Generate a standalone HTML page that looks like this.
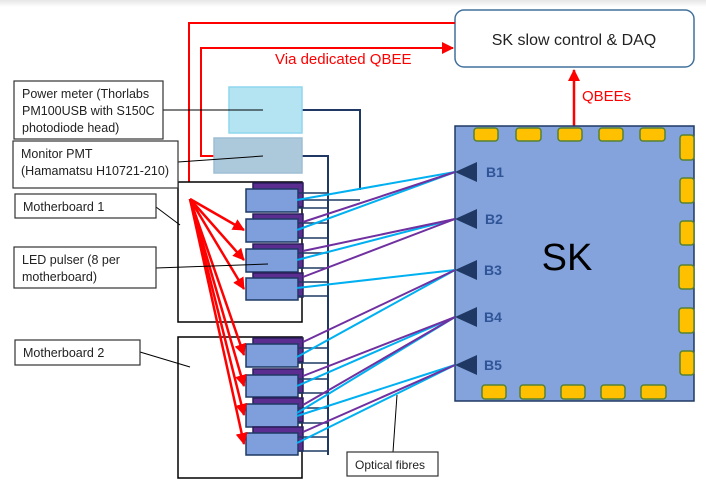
<!DOCTYPE html>
<html><head><meta charset="utf-8"><style>
body{margin:0;background:#fff;}
svg{display:block;font-family:"Liberation Sans",sans-serif;}
</style></head><body>
<svg width="706" height="483" viewBox="0 0 706 483" xmlns="http://www.w3.org/2000/svg">
<defs>
<linearGradient id="tg" x1="0" y1="0" x2="0" y2="1"><stop offset="0" stop-color="#e6e6e6"/><stop offset="1" stop-color="#fff"/></linearGradient>
<marker id="ra" markerWidth="8" markerHeight="8" refX="7" refY="4" orient="auto" markerUnits="userSpaceOnUse"><path d="M0,0 L8,4 L0,8z" fill="#f00"/></marker>
<marker id="rb" markerWidth="12" markerHeight="12" refX="11" refY="6" orient="auto" markerUnits="userSpaceOnUse"><path d="M0,0 L12,6 L0,12z" fill="#f00"/></marker>
</defs>
<rect x="0" y="0" width="706" height="7" fill="url(#tg)"/>

<!-- slow control -->
<rect x="455" y="10" width="239" height="57" rx="9" fill="#fff" stroke="#41719c" stroke-width="1.5"/>
<text x="574" y="45" font-size="16" text-anchor="middle" fill="#222">SK slow control &amp; DAQ</text>

<!-- red lines -->
<polyline points="455,23 189,23 189,196" fill="none" stroke="#f00" stroke-width="2" marker-end="url(#ra)"/>
<polyline points="215,156 201,156 201,48 453,48" fill="none" stroke="#f00" stroke-width="2" marker-end="url(#rb)"/>
<text x="275" y="64" font-size="15" fill="#f00">Via dedicated QBEE</text>
<line x1="574" y1="127" x2="574" y2="70" stroke="#f00" stroke-width="2.5" marker-end="url(#rb)"/>
<text x="582" y="101" font-size="15" fill="#f00">QBEEs</text>

<!-- power meter, monitor pmt -->
<polyline points="302,110 360,110 360,190" fill="none" stroke="#1f3864" stroke-width="2"/>
<polyline points="302,156 328,156 328,455" fill="none" stroke="#1f3864" stroke-width="2"/>
<rect x="229" y="87" width="73" height="46" fill="#b4e4f2" stroke="#8fd6ee" stroke-width="1.5"/>
<rect x="214" y="138" width="88" height="35" fill="#acc9dc" stroke="#9dbed4" stroke-width="1.5"/>

<!-- motherboards -->
<rect x="178" y="182" width="124" height="140" fill="#fff" stroke="#000" stroke-width="1.5"/>
<rect x="178" y="337" width="124" height="141" fill="#fff" stroke="#000" stroke-width="1.5"/>

<!-- pulsers -->
<g stroke="#1f3864" stroke-width="1.5">
<g id="p">
</g>
</g>
<g stroke-width="1.5">
<rect x="253" y="183" width="50" height="24" fill="#5b2d91" stroke="#2a1f5a"/>
<rect x="246" y="189" width="52" height="23" fill="#7f9fdc" stroke="#1f3864"/>
<rect x="253" y="214" width="50" height="24" fill="#5b2d91" stroke="#2a1f5a"/>
<rect x="246" y="219" width="52" height="23" fill="#7f9fdc" stroke="#1f3864"/>
<rect x="253" y="244" width="50" height="24" fill="#5b2d91" stroke="#2a1f5a"/>
<rect x="246" y="249" width="52" height="23" fill="#7f9fdc" stroke="#1f3864"/>
<rect x="253" y="273" width="50" height="24" fill="#5b2d91" stroke="#2a1f5a"/>
<rect x="246" y="278" width="52" height="22" fill="#7f9fdc" stroke="#1f3864"/>
<rect x="253" y="338" width="50" height="24" fill="#5b2d91" stroke="#2a1f5a"/>
<rect x="246" y="344" width="52" height="23" fill="#7f9fdc" stroke="#1f3864"/>
<rect x="253" y="369" width="50" height="24" fill="#5b2d91" stroke="#2a1f5a"/>
<rect x="246" y="375" width="52" height="22" fill="#7f9fdc" stroke="#1f3864"/>
<rect x="253" y="398" width="50" height="24" fill="#5b2d91" stroke="#2a1f5a"/>
<rect x="246" y="404" width="52" height="23" fill="#7f9fdc" stroke="#1f3864"/>
<rect x="253" y="427" width="50" height="24" fill="#5b2d91" stroke="#2a1f5a"/>
<rect x="246" y="433" width="52" height="22" fill="#7f9fdc" stroke="#1f3864"/>
</g>
<!-- connector lines -->
<g stroke="#1f3864" stroke-width="1.5" fill="none">
<path d="M298,193H328M298,208H328M298,223H328M298,238H328M298,253H328M298,268H328M298,282H328M298,296H328M298,348H328M298,363H328M298,379H328M298,393H328M298,408H328M298,423H328M298,437H328M298,451H328"/>
<path d="M303,200H360"/>
</g>

<!-- red fan -->
<g stroke="#f00" stroke-width="2.5" fill="none">
<line x1="190" y1="199" x2="244" y2="230" marker-end="url(#rb)"/>
<line x1="190" y1="199" x2="244" y2="260" marker-end="url(#rb)"/>
<line x1="190" y1="199" x2="244" y2="289" marker-end="url(#rb)"/>
<line x1="190" y1="199" x2="244" y2="355" marker-end="url(#rb)"/>
<line x1="190" y1="199" x2="244" y2="386" marker-end="url(#rb)"/>
<line x1="190" y1="199" x2="244" y2="415" marker-end="url(#rb)"/>
<line x1="190" y1="199" x2="244" y2="444" marker-end="url(#rb)"/>
</g>

<!-- SK -->
<rect x="455" y="126" width="239" height="275" fill="#84a2dc" stroke="#1f3864" stroke-width="1.5"/>
<g fill="#ffc000" stroke="#548235" stroke-width="1.5">
<rect x="474" y="128" width="24" height="13" rx="3"/><rect x="516" y="128" width="25" height="13" rx="3"/><rect x="558" y="128" width="24" height="13" rx="3"/><rect x="599" y="128" width="24" height="13" rx="3"/><rect x="640" y="128" width="25" height="13" rx="3"/>
<rect x="482" y="385" width="24" height="14" rx="3"/><rect x="520" y="385" width="25" height="14" rx="3"/><rect x="561" y="385" width="24" height="14" rx="3"/><rect x="601" y="385" width="24" height="14" rx="3"/><rect x="641" y="385" width="25" height="14" rx="3"/>
<rect x="680" y="135" width="14" height="25" rx="3"/><rect x="680" y="178" width="14" height="25" rx="3"/><rect x="680" y="221" width="14" height="24" rx="3"/><rect x="679" y="265" width="15" height="24" rx="3"/><rect x="679" y="308" width="15" height="25" rx="3"/><rect x="680" y="351" width="14" height="24" rx="3"/>
</g>
<text x="567" y="270" font-size="38" text-anchor="middle" fill="#000">SK</text>
<g fill="#1f3864">
<path d="M455,172 L477,162 L477,182z"/><path d="M455,219 L477,209 L477,229z"/><path d="M455,270 L477,260 L477,280z"/><path d="M455,317 L477,307 L477,327z"/><path d="M455,365 L477,355 L477,375z"/>
</g>
<g font-size="14" font-weight="bold" fill="#2f5597">
<text x="486" y="177">B1</text><text x="485" y="224">B2</text><text x="484" y="275">B3</text><text x="484" y="322">B4</text><text x="484" y="370">B5</text>
</g>

<!-- fibres -->
<g stroke-width="2" fill="none">
<g stroke="#00b0f0">
<line x1="297" y1="200" x2="455" y2="172"/><line x1="297" y1="230" x2="455" y2="172"/>
<line x1="297" y1="260" x2="455" y2="219"/>
<line x1="297" y1="288" x2="455" y2="270"/><line x1="297" y1="357" x2="455" y2="270"/>
<line x1="297" y1="386" x2="455" y2="317"/><line x1="297" y1="413" x2="455" y2="317"/>
<line x1="297" y1="416" x2="455" y2="365"/><line x1="297" y1="443" x2="455" y2="365"/>
</g>
<g stroke="#7030a0">
<line x1="303" y1="222" x2="455" y2="172"/>
<line x1="303" y1="251" x2="455" y2="219"/><line x1="303" y1="277" x2="455" y2="219"/>
<line x1="303" y1="342" x2="455" y2="270"/>
<line x1="303" y1="376" x2="455" y2="317"/><line x1="303" y1="405" x2="455" y2="317"/>
<line x1="303" y1="432" x2="455" y2="365"/>
</g>
</g>

<!-- leader lines -->
<g stroke="#000" stroke-width="1" fill="none">
<line x1="163" y1="110" x2="263" y2="110"/>
<line x1="178" y1="162" x2="263" y2="156"/>
<line x1="156" y1="207" x2="180" y2="225"/>
<line x1="156" y1="268" x2="268" y2="264"/>
<line x1="140" y1="352" x2="190" y2="367"/>
<line x1="393" y1="452" x2="397" y2="395"/>
</g>

<!-- labels -->
<g fill="#fff" stroke="#333" stroke-width="1.2">
<rect x="14" y="81" width="149" height="58"/>
<rect x="13" y="141" width="165" height="47"/>
<rect x="15" y="194" width="141" height="24"/>
<rect x="14" y="247" width="142" height="41"/>
<rect x="15" y="340" width="125" height="25"/>
<rect x="347" y="452" width="91" height="24"/>
</g>
<g font-size="12.5" fill="#222">
<text x="22" y="98">Power meter (Thorlabs</text>
<text x="22" y="115">PM100USB with S150C</text>
<text x="22" y="132">photodiode head)</text>
<text x="21" y="158">Monitor PMT</text>
<text x="21" y="175">(Hamamatsu H10721-210)</text>
<text x="23" y="211">Motherboard 1</text>
<text x="22" y="264">LED pulser (8 per</text>
<text x="22" y="281">motherboard)</text>
<text x="23" y="357">Motherboard 2</text>
<text x="355" y="469" font-size="12">Optical fibres</text>
</g>
</svg>
</body></html>
